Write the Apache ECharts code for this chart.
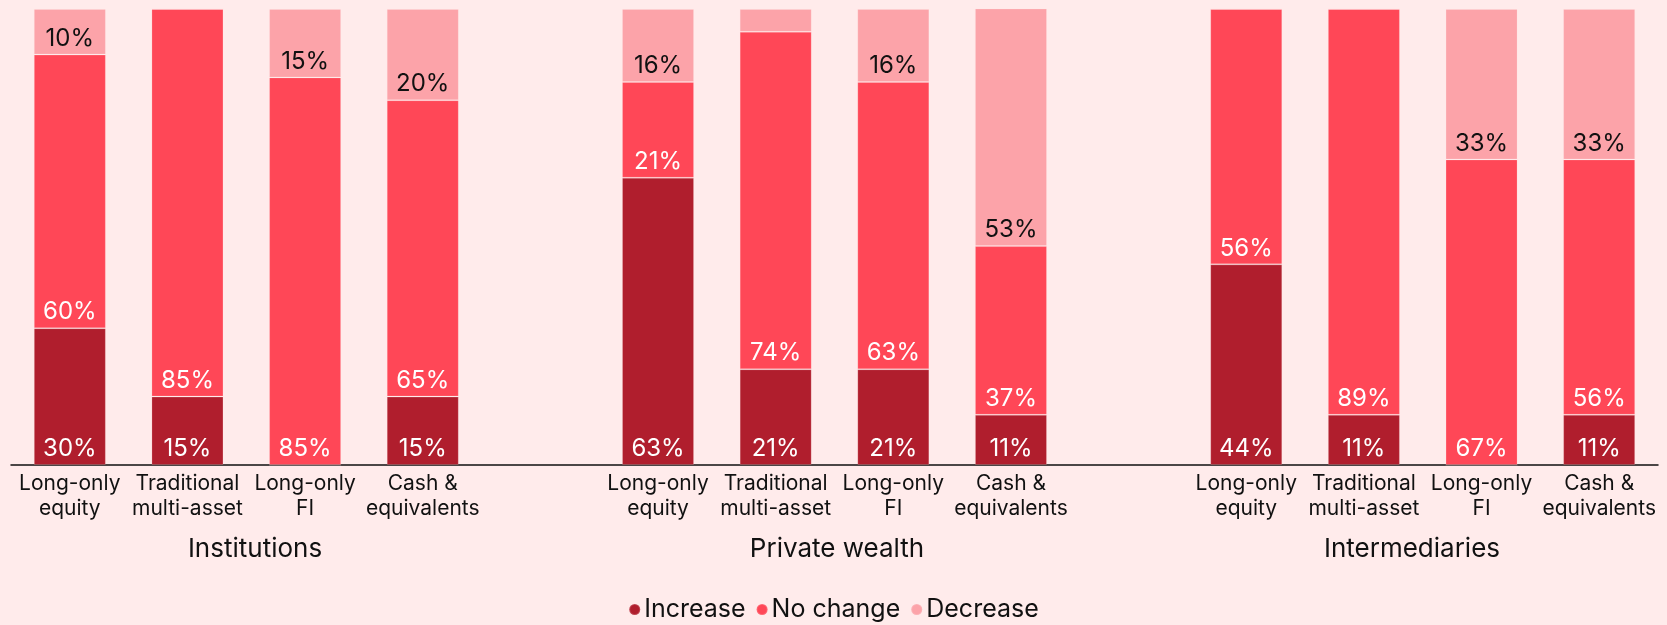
<!DOCTYPE html>
<html>
<head>
<meta charset="utf-8">
<script src="https://cdn.jsdelivr.net/npm/echarts@6/dist/echarts.min.js"></script>
<style>
  html, body { margin: 0; padding: 0; background: #FFEBEB; }
  #chart { width: 1667px; height: 625px; }
</style>
</head>
<body>
<div id="chart"></div>
<script>
// Investor segments and the asset classes asked about in each
const segments = ['Institutions', 'Private wealth', 'Intermediaries'];
const assetClasses = ['Long-only\nequity', 'Traditional\nmulti-asset', 'Long-only\nFI', 'Cash &\nequivalents'];
const seriesNames = ['Increase', 'No change', 'Decrease'];

// Share of respondents (%) per segment, in assetClasses order
const increase = [[30, 15, 0, 15], [63, 21, 21, 11], [44, 11, 0, 11]];
const noChange = [[60, 85, 85, 65], [21, 74, 63, 37], [56, 89, 67, 56]];
const decrease = [[10, 0, 15, 20], [16, 5, 16, 53], [0, 0, 33, 33]];

const colors = ['#B01E2D', '#FF4757', '#FCA3A9'];
const labelColors = ['#FFFFFF', '#FFFFFF', '#111111'];
const FONT = 'Inter';

// One category axis: each segment's four bars, with an empty slot between segments
const categories = [];
segments.forEach((s, i) => {
  assetClasses.forEach(a => categories.push(a));
  if (i < segments.length - 1) categories.push('');
});

function flatten(groups) {
  const out = [];
  groups.forEach((g, i) => {
    g.forEach(v => out.push(v));
    if (i < groups.length - 1) out.push('-');
  });
  return out;
}

const seriesData = [flatten(increase), flatten(noChange), flatten(decrease)];

const chart = echarts.init(document.getElementById('chart'), null, { renderer: 'canvas' });

chart.setOption({
  backgroundColor: '#FFEBEB',
  textStyle: { fontFamily: FONT },
  animation: false,
  grid: { left: 11, right: 9, top: 9, bottom: 160, containLabel: false },
  title: [
    { text: segments[0], left: 255 },
    { text: segments[1], left: 837 },
    { text: segments[2], left: 1412 }
  ].map(t => Object.assign(t, {
    top: 536,
    padding: 0,
    textAlign: 'center',
    textStyle: { fontFamily: FONT, fontSize: 26, fontWeight: 'normal', color: '#111111' }
  })),
  legend: {
    data: seriesNames,
    left: 'center',
    top: 592,
    icon: 'circle',
    itemWidth: 11,
    itemHeight: 11,
    itemGap: 10,
    textStyle: { fontFamily: FONT, fontSize: 25, color: '#111111', padding: [0, 0, 0, -1] }
  },
  xAxis: {
    type: 'category',
    data: categories,
    axisLine: { show: true, lineStyle: { color: '#111111', width: 1.5 } },
    axisTick: { show: false },
    axisLabel: {
      interval: 0,
      margin: 6,
      fontFamily: FONT,
      fontSize: 21,
      lineHeight: 25,
      color: '#111111'
    }
  },
  yAxis: {
    type: 'value',
    min: 0,
    max: 100,
    show: false,
    splitLine: { show: false }
  },
  series: seriesNames.map((name, k) => ({
    name: name,
    type: 'bar',
    stack: 'total',
    barWidth: 72,
    data: seriesData[k],
    itemStyle: {
      color: colors[k],
      borderColor: 'rgba(255,235,235,0.18)',
      borderWidth: 1
    },
    label: {
      show: true,
      position: 'insideBottom',
      distance: 4,
      fontFamily: FONT,
      fontSize: 24,
      color: labelColors[k],
      formatter: p => (typeof p.value === 'number' && p.value >= 8) ? p.value + '%' : ''
    }
  }))
});
</script>
</body>
</html>
